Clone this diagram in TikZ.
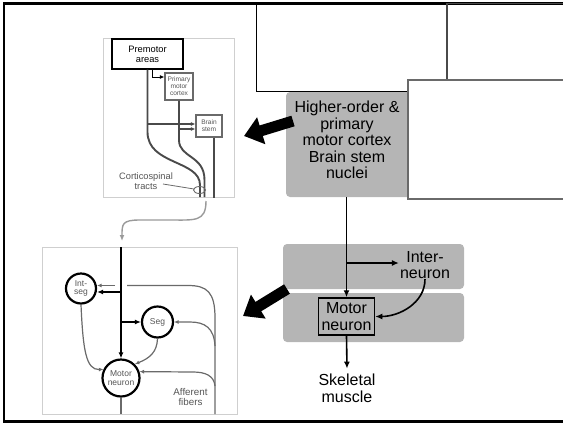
\documentclass[tikz,border=0pt]{standalone}
\usepackage{fontspec}
\setmainfont{Liberation Sans}
\usepackage{xcolor}
\usepackage{tikz}
\usetikzlibrary{arrows.meta, positioning, calc}

\definecolor{boxgray}{HTML}{B5B5B5}
\definecolor{panelgray}{HTML}{CFCFCF}
\definecolor{tractgray}{HTML}{4A4A4A}
\definecolor{textgray}{HTML}{555555}
\definecolor{fibergray}{HTML}{6A6A6A}
\definecolor{arrowgray}{HTML}{9A9A9A}

\tikzset{
  bigtext/.style={font=\fontsize{16}{16.6}\selectfont, align=center, inner sep=0pt},
  smalltext/.style={font=\fontsize{9.3}{10}\selectfont, align=center, inner sep=0pt},
  tinytext/.style={font=\fontsize{6.6}{7}\selectfont, align=center, inner sep=0pt, text=textgray},
  graybox/.style={fill=boxgray, rounded corners=4pt},
  panel/.style={draw=panelgray, line width=1pt, inner sep=0pt},
  tract/.style={draw=tractgray, line width=1.9pt},
  fiber/.style={draw=fibergray, line width=1.2pt},
  smallarrow/.style={-{Latex[length=4.5pt,width=4pt]}},
  midarrow/.style={-{Latex[length=7pt,width=6pt]}},
  cell/.style={circle, draw, line width=2.2pt, inner sep=0pt, font=\fontsize{8.5}{8.8}\selectfont, align=center, text=textgray},
  bigarrow/.style={line width=11pt, -{Triangle[length=18pt,width=27pt]}},
}

\begin{document}
\begin{tikzpicture}[x=1pt,y=-1pt]
\useasboundingbox (0,0) rectangle (563,424);

% 外框
\draw[line width=2.4pt] (575,3.3) -- (4,3.3) -- (4,421.5) -- (575,421.5);

% 右上空白框
\draw[line width=1pt] (256,3.3) rectangle (447,91);
\draw[draw=tractgray, line width=1.3pt] (447,3.3) rectangle (575,80);

% 高级中枢
\node[graybox, minimum width=126pt, minimum height=105pt] (higherbox) at (349,144.5) {};
\node[bigtext] (higher) at (347,140) {Higher-order \&\\primary\\motor cortex\\Brain stem\\nuclei};
\draw[fill=white, draw=fibergray, line width=1.3pt] (408,80) rectangle (575,199);

% 脊髓层
\node[graybox, minimum width=181pt, minimum height=45pt] (interbox) at (373.5,266.5) {};
\node[graybox, minimum width=181pt, minimum height=49pt] (motorbox) at (373.5,317.5) {};
\node[bigtext] (inter) at (425,265) {Inter-\\neuron};
\node[bigtext, draw, line width=1.5pt, minimum width=56pt, minimum height=37pt] (motor) at (346.5,316.5) {Motor\\neuron};
\node[bigtext] (muscle) at (347,388) {Skeletal\\muscle};

\coordinate (split) at (346.5,263);
\draw[line width=1.6pt, midarrow] (higherbox.south -| motor.north) -- (motor.north);
\draw[line width=1.6pt, midarrow] (split) -- ([xshift=-1pt]inter.west |- split);
\draw[line width=1.6pt, midarrow] (inter.south) .. controls +(0,24) and +(24,0) .. (motor.east);
\draw[line width=1.6pt, midarrow] (motor.south) -- ([yshift=5pt]muscle.north);

% 粗箭头
\coordinate (fromA) at (293,121);
\coordinate (toA) at (244,136);
\coordinate (fromB) at (287,289);
\coordinate (toB) at (243,316);
\draw[bigarrow] (fromA) -- (toA);
\draw[bigarrow] (fromB) -- (toB);

% 上方小图：皮质脊髓束
\node[panel, minimum width=131pt, minimum height=159pt] (tracts) at (168.5,117.5) {};
\node[smalltext, draw, line width=1.1pt, minimum width=71pt, minimum height=30pt] (premotor) at (147.5,54) {Premotor\\areas};
\node[tinytext, draw=fibergray, line width=1.1pt, minimum width=28pt, minimum height=27pt] (primary) at (179,86.5) {Primary\\motor\\cortex};
\node[tinytext, draw=fibergray, line width=1.1pt, minimum width=26pt, minimum height=22pt] (stem) at (209,126) {Brain\\stem};

\draw[line width=0.9pt, smallarrow] ([xshift=4.5pt]premotor.south) |- ([yshift=9.5pt]primary.west);
\draw[tract] (premotor.south) -- (147.5,132) .. controls (147.5,165) and (200,160) .. (200,185) -- (200,197);
\draw[tract] (primary.south) -- (179,140) .. controls (179,158) and (204.5,155) .. (204.5,180) -- (204.5,197);
\draw[tract] ([xshift=5pt]stem.south) -- ([xshift=5pt]stem.south |- tracts.south);
\draw[tract, line width=1.3pt, smallarrow] (147.5,124) -- ([yshift=2pt]stem.west);
\draw[tract, line width=1.3pt, smallarrow] (179,129) -- ([yshift=-3pt]stem.west);

\node[smalltext, text=textgray] (cortlabel) at (146,181) {Corticospinal\\tracts};
\draw[fibergray, line width=0.8pt] (163,184) -- (194,189);
\draw[fibergray, line width=0.9pt] (199.5,190) ellipse (6pt and 3.5pt);

% 灰色连接箭头
\draw[arrowgray, line width=1.4pt, -{Latex[length=6pt,width=5pt]}] (206,201) .. controls (206,222) and (195,220) .. (170,220) -- (140,220) .. controls (122,220) and (122,224) .. (122,241);

% 下方小图：脊髓节段
\node[panel, minimum width=195pt, minimum height=167pt] (spinal) at (139.5,330.5) {};
\node[cell, minimum size=30pt] (intseg) at (81,288.5) {Int-\\seg};
\node[cell, minimum size=31pt] (seg) at (157.5,322) {Seg};
\node[cell, minimum size=37pt] (mn) at (121,378) {Motor\\neuron};

\coordinate (cordtop) at (121,247);
\draw[line width=2.2pt, -{Latex[length=6pt,width=5pt]}] (cordtop) -- (mn.north);
\draw[line width=2.2pt, -{Latex[length=6pt,width=5pt]}] (121,292) -- ([yshift=-3.5pt]intseg.east);
\draw[line width=2.2pt, -{Latex[length=6pt,width=5pt]}] (121,322) -- (seg.west);

% 传入纤维
\draw[fiber] (215,414) -- (215,318) .. controls (215,292) and (207,285.5) .. (188,285.5) -- (127,285.5);
\draw[fiber, smallarrow] (115,285.5) -- ([yshift=3pt]intseg.east);
\draw[fiber, smallarrow] (215,346) .. controls (214,328) and (205,322) .. (190,322) -- (seg.east);
\draw[fiber, smallarrow] (215,386) .. controls (214,376) and (206,372) .. (193,372) -- (mn.19);
\draw[fiber, smallarrow] (intseg.south) .. controls (83,350) and (86,370) .. (mn.154);
\draw[fiber, smallarrow] (seg.south) .. controls (157,352) and (150,358) .. (mn.45);
\draw[fibergray, line width=1.8pt] (mn.south) -- (121,414);

\node[font=\fontsize{9.8}{10.5}\selectfont, text=textgray, align=center] (afflabel) at (190.5,397) {Afferent\\fibers};
\end{tikzpicture}
\end{document}
